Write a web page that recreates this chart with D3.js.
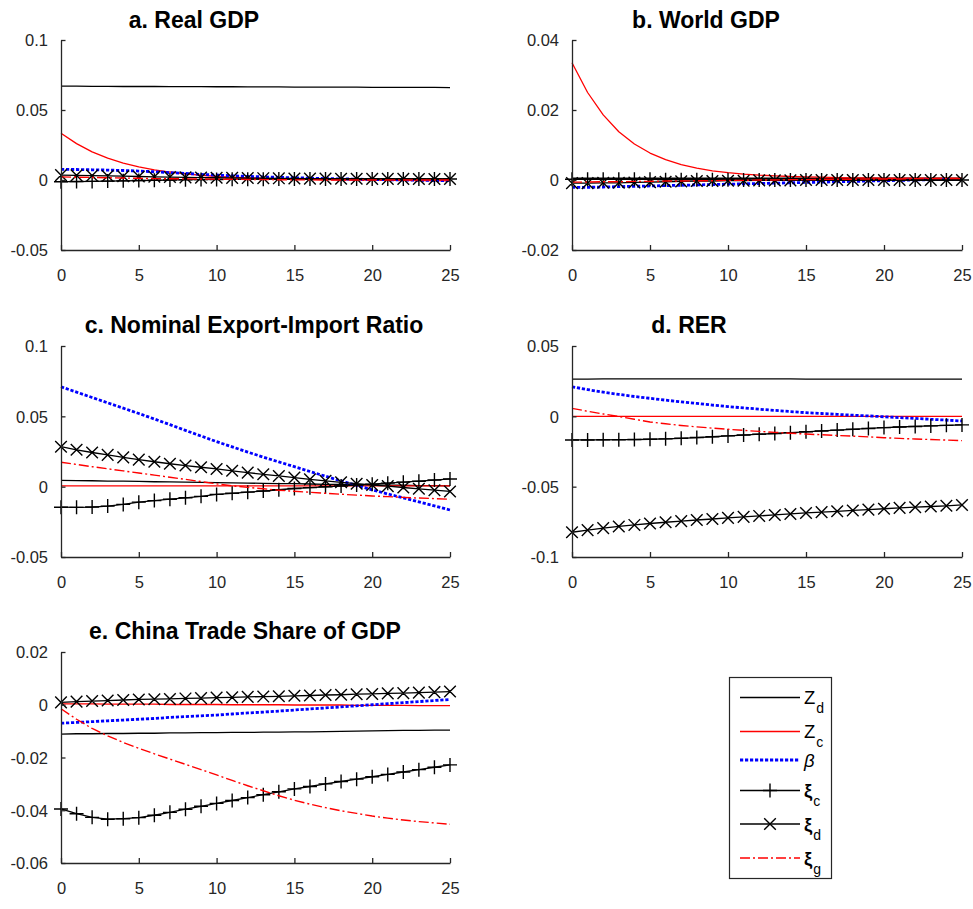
<!DOCTYPE html>
<html>
<head>
<meta charset="utf-8">
<script src="https://cdn.jsdelivr.net/npm/d3@7"></script>
<style>
  html, body { margin: 0; padding: 0; background: #fff; }
  svg { display: block; font-family: "Liberation Sans", Arial, Helvetica, sans-serif; }
</style>
</head>
<body>
<svg id="chart" width="973" height="909"></svg>
<script>
// Impulse-response horizon (periods)
const periods = [0,1,2,3,4,5,6,7,8,9,10,11,12,13,14,15,16,17,18,19,20,21,22,23,24,25];

// Shock names, in plotting / legend order
const shocks = ["Zd", "Zc", "beta", "xic", "xid", "xig"];

// ---- a. Real GDP ----
const realGdpZd   = [0.0670,0.0670,0.0669,0.0669,0.0668,0.0668,0.0668,0.0667,0.0667,0.0667,0.0666,0.0666,0.0665,0.0665,0.0665,0.0664,0.0664,0.0663,0.0663,0.0663,0.0662,0.0662,0.0661,0.0661,0.0661,0.0660];
const realGdpZc   = [0.0334,0.0260,0.0201,0.0156,0.0121,0.0094,0.0073,0.0057,0.0044,0.0034,0.0026,0.0020,0.0015,0.0011,0.0008,0.0006,0.0004,0.0002,0.0001,0.0000,-0.0001,-0.0002,-0.0003,-0.0004,-0.0005,-0.0006];
const realGdpBeta = [0.0076,0.0075,0.0073,0.0071,0.0068,0.0064,0.0059,0.0053,0.0047,0.0040,0.0035,0.0030,0.0026,0.0022,0.0019,0.0016,0.0013,0.0010,0.0008,0.0006,0.0004,0.0002,0.0000,-0.0002,-0.0004,-0.0005];
const realGdpXic  = [-0.0012,-0.0011,-0.0010,-0.0008,-0.0006,-0.0004,-0.0002,0.0000,0.0002,0.0003,0.0004,0.0005,0.0006,0.0006,0.0007,0.0007,0.0007,0.0007,0.0007,0.0007,0.0007,0.0007,0.0007,0.0007,0.0007,0.0007];
const realGdpXid  = [0.0035,0.0033,0.0031,0.0029,0.0027,0.0025,0.0023,0.0021,0.0019,0.0017,0.0016,0.0015,0.0014,0.0013,0.0012,0.0011,0.0010,0.0010,0.0009,0.0009,0.0008,0.0008,0.0008,0.0007,0.0007,0.0007];
const realGdpXig  = [0.0022,0.0020,0.0018,0.0016,0.0014,0.0012,0.0010,0.0009,0.0008,0.0007,0.0006,0.0005,0.0004,0.0003,0.0002,0.0001,0.0001,0.0000,0.0000,0.0000,0.0000,0.0000,0.0000,0.0000,0.0000,0.0000];

// ---- b. World GDP ----
const worldGdpZd   = [0.0005,0.0005,0.0005,0.0005,0.0005,0.0005,0.0005,0.0005,0.0005,0.0005,0.0005,0.0005,0.0005,0.0005,0.0005,0.0005,0.0005,0.0005,0.0005,0.0005,0.0005,0.0005,0.0005,0.0005,0.0005,0.0005];
const worldGdpZc   = [0.0335,0.0250,0.0186,0.0138,0.0103,0.0077,0.0058,0.0044,0.0034,0.0026,0.0021,0.0017,0.0014,0.0012,0.0010,0.0009,0.0008,0.0007,0.0006,0.0006,0.0005,0.0005,0.0005,0.0005,0.0005,0.0005];
const worldGdpBeta = [-0.0021,-0.0021,-0.0020,-0.0019,-0.0018,-0.0017,-0.0016,-0.0015,-0.0014,-0.0013,-0.0012,-0.0011,-0.0010,-0.0009,-0.0008,-0.0007,-0.0006,-0.0005,-0.0004,-0.0003,-0.0002,-0.0001,0.0000,0.0001,0.0001,0.0002];
const worldGdpXic  = [0.0002,0.0002,0.0002,0.0002,0.0002,0.0002,0.0001,0.0001,0.0001,0.0001,0.0001,0.0000,0.0000,0.0000,0.0000,0.0000,0.0000,0.0000,0.0000,0.0000,0.0000,0.0000,0.0000,0.0000,0.0000,0.0000];
const worldGdpXid  = [-0.0009,-0.0009,-0.0008,-0.0008,-0.0007,-0.0006,-0.0005,-0.0004,-0.0003,-0.0003,-0.0002,-0.0002,-0.0001,-0.0001,-0.0001,0.0000,0.0000,0.0000,0.0000,0.0000,0.0000,0.0000,0.0000,0.0000,0.0000,0.0000];
const worldGdpXig  = [-0.0006,-0.0006,-0.0005,-0.0005,-0.0004,-0.0004,-0.0003,-0.0003,-0.0002,-0.0002,-0.0001,-0.0001,0.0000,0.0000,0.0001,0.0001,0.0002,0.0002,0.0002,0.0003,0.0003,0.0003,0.0004,0.0004,0.0004,0.0004];

// ---- c. Nominal Export-Import Ratio ----
const exImZd   = [0.0045,0.0043,0.0042,0.0040,0.0039,0.0037,0.0035,0.0034,0.0032,0.0030,0.0029,0.0027,0.0025,0.0024,0.0022,0.0021,0.0019,0.0017,0.0016,0.0014,0.0013,0.0011,0.0010,0.0008,0.0007,0.0005];
const exImZc   = [0.0005,0.0005,0.0005,0.0005,0.0005,0.0005,0.0005,0.0005,0.0005,0.0005,0.0005,0.0005,0.0005,0.0005,0.0005,0.0005,0.0005,0.0005,0.0005,0.0005,0.0005,0.0005,0.0005,0.0005,0.0005,0.0005];
const exImBeta = [0.0710,0.0672,0.0634,0.0596,0.0558,0.0520,0.0481,0.0441,0.0400,0.0360,0.0320,0.0283,0.0246,0.0210,0.0176,0.0142,0.0108,0.0074,0.0041,0.0009,-0.0023,-0.0052,-0.0080,-0.0108,-0.0137,-0.0166];
const exImXic  = [-0.0146,-0.0147,-0.0145,-0.0138,-0.0126,-0.0110,-0.0099,-0.0089,-0.0079,-0.0069,-0.0055,-0.0047,-0.0039,-0.0031,-0.0022,-0.0013,-0.0007,-0.0001,0.0005,0.0011,0.0018,0.0025,0.0032,0.0039,0.0047,0.0055];
const exImXid  = [0.0284,0.0262,0.0243,0.0226,0.0208,0.0192,0.0177,0.0163,0.0150,0.0138,0.0126,0.0113,0.0100,0.0088,0.0076,0.0064,0.0052,0.0041,0.0031,0.0021,0.0012,0.0004,-0.0006,-0.0015,-0.0025,-0.0034];
const exImXig  = [0.0174,0.0158,0.0142,0.0127,0.0112,0.0097,0.0082,0.0067,0.0052,0.0036,0.0020,0.0006,-0.0005,-0.0015,-0.0025,-0.0033,-0.0040,-0.0047,-0.0054,-0.0060,-0.0066,-0.0071,-0.0076,-0.0081,-0.0085,-0.0089];

// ---- d. RER ----
const rerZd   = [0.0265,0.0265,0.0266,0.0266,0.0266,0.0266,0.0266,0.0266,0.0266,0.0266,0.0266,0.0266,0.0266,0.0266,0.0266,0.0265,0.0265,0.0265,0.0265,0.0265,0.0265,0.0264,0.0264,0.0264,0.0264,0.0264];
const rerZc   = [0.0000,0.0000,0.0000,0.0000,0.0000,0.0000,0.0000,0.0000,0.0000,0.0000,0.0000,0.0000,0.0000,0.0000,0.0000,0.0000,0.0000,0.0000,0.0000,0.0000,0.0000,0.0000,0.0000,0.0000,0.0000,0.0000];
const rerBeta = [0.0210,0.0190,0.0172,0.0156,0.0141,0.0128,0.0115,0.0103,0.0092,0.0080,0.0069,0.0060,0.0051,0.0042,0.0034,0.0026,0.0020,0.0014,0.0008,0.0003,-0.0003,-0.0009,-0.0015,-0.0021,-0.0027,-0.0033];
const rerXic  = [-0.0168,-0.0168,-0.0167,-0.0166,-0.0165,-0.0163,-0.0160,-0.0156,-0.0151,-0.0145,-0.0139,-0.0133,-0.0127,-0.0122,-0.0116,-0.0110,-0.0104,-0.0098,-0.0092,-0.0086,-0.0080,-0.0076,-0.0072,-0.0068,-0.0064,-0.0061];
const rerXid  = [-0.0824,-0.0809,-0.0795,-0.0783,-0.0772,-0.0762,-0.0753,-0.0745,-0.0737,-0.0730,-0.0722,-0.0715,-0.0708,-0.0701,-0.0694,-0.0687,-0.0681,-0.0675,-0.0669,-0.0663,-0.0657,-0.0651,-0.0646,-0.0641,-0.0636,-0.0630];
const rerXig  = [0.0057,0.0036,0.0017,-0.0001,-0.0021,-0.0040,-0.0053,-0.0065,-0.0075,-0.0084,-0.0092,-0.0100,-0.0107,-0.0114,-0.0120,-0.0126,-0.0131,-0.0136,-0.0141,-0.0146,-0.0152,-0.0157,-0.0161,-0.0165,-0.0169,-0.0173];

// ---- e. China Trade Share of GDP ----
const tradeZd   = [-0.0111,-0.0110,-0.0110,-0.0109,-0.0109,-0.0108,-0.0108,-0.0107,-0.0107,-0.0106,-0.0106,-0.0105,-0.0105,-0.0104,-0.0104,-0.0103,-0.0103,-0.0102,-0.0101,-0.0100,-0.0099,-0.0098,-0.0097,-0.0097,-0.0096,-0.0096];
const tradeZc   = [0.0003,0.0003,0.0003,0.0002,0.0002,0.0002,0.0002,0.0001,0.0001,0.0001,0.0001,0.0000,0.0000,0.0000,0.0000,-0.0001,-0.0001,-0.0001,-0.0001,-0.0002,-0.0002,-0.0002,-0.0002,-0.0003,-0.0003,-0.0003];
const tradeBeta = [-0.0070,-0.0067,-0.0064,-0.0061,-0.0058,-0.0055,-0.0052,-0.0048,-0.0045,-0.0042,-0.0039,-0.0035,-0.0031,-0.0028,-0.0024,-0.0020,-0.0016,-0.0012,-0.0008,-0.0004,0.0000,0.0004,0.0008,0.0012,0.0016,0.0020];
const tradeXic  = [-0.0395,-0.0413,-0.0427,-0.0434,-0.0432,-0.0428,-0.0419,-0.0408,-0.0396,-0.0385,-0.0374,-0.0363,-0.0352,-0.0341,-0.0330,-0.0319,-0.0310,-0.0300,-0.0291,-0.0282,-0.0273,-0.0264,-0.0255,-0.0246,-0.0237,-0.0228];
const tradeXid  = [0.0009,0.0012,0.0014,0.0016,0.0018,0.0020,0.0021,0.0022,0.0024,0.0025,0.0027,0.0028,0.0030,0.0031,0.0032,0.0034,0.0035,0.0037,0.0038,0.0040,0.0041,0.0043,0.0044,0.0046,0.0048,0.0050];
const tradeXig  = [-0.0015,-0.0055,-0.0090,-0.0118,-0.0143,-0.0165,-0.0186,-0.0206,-0.0226,-0.0246,-0.0266,-0.0287,-0.0307,-0.0326,-0.0345,-0.0362,-0.0377,-0.0390,-0.0402,-0.0412,-0.0422,-0.0430,-0.0437,-0.0443,-0.0448,-0.0453];

// Axis tick values and labels
const xTicks = [0, 5, 10, 15, 20, 25];
const yTicksA = [-0.05, 0, 0.05, 0.1];   const yLabelsA = ["-0.05", "0", "0.05", "0.1"];
const yTicksB = [-0.02, 0, 0.02, 0.04];  const yLabelsB = ["-0.02", "0", "0.02", "0.04"];
const yTicksC = [-0.05, 0, 0.05, 0.1];   const yLabelsC = ["-0.05", "0", "0.05", "0.1"];
const yTicksD = [-0.1, -0.05, 0, 0.05];  const yLabelsD = ["-0.1", "-0.05", "0", "0.05"];
const yTicksE = [-0.06, -0.04, -0.02, 0, 0.02]; const yLabelsE = ["-0.06", "-0.04", "-0.02", "0", "0.02"];

// Panel titles
const titles = ["a. Real GDP", "b. World GDP", "c. Nominal Export-Import Ratio", "d. RER", "e. China Trade Share of GDP"];

// Legend labels: main symbol + subscript
const legendMain = ["Z", "Z", "\u03B2", "\u03BE", "\u03BE", "\u03BE"];
const legendSub  = ["d", "c", "", "c", "d", "g"];

// ---------------- drawing ----------------
const panels = [
  { title: titles[0], series: [realGdpZd, realGdpZc, realGdpBeta, realGdpXic, realGdpXid, realGdpXig],
    domain: [-0.05, 0.1], ticks: yTicksA, labels: yLabelsA,
    left: 61, right: 450, top: 40, bottom: 250, titleX: 194, titleY: 28 },
  { title: titles[1], series: [worldGdpZd, worldGdpZc, worldGdpBeta, worldGdpXic, worldGdpXid, worldGdpXig],
    domain: [-0.02, 0.04], ticks: yTicksB, labels: yLabelsB,
    left: 572, right: 962, top: 40, bottom: 250, titleX: 706, titleY: 28 },
  { title: titles[2], series: [exImZd, exImZc, exImBeta, exImXic, exImXid, exImXig],
    domain: [-0.05, 0.1], ticks: yTicksC, labels: yLabelsC,
    left: 61, right: 450, top: 346, bottom: 557, titleX: 254, titleY: 333 },
  { title: titles[3], series: [rerZd, rerZc, rerBeta, rerXic, rerXid, rerXig],
    domain: [-0.1, 0.05], ticks: yTicksD, labels: yLabelsD,
    left: 572, right: 962, top: 346, bottom: 557, titleX: 689, titleY: 333 },
  { title: titles[4], series: [tradeZd, tradeZc, tradeBeta, tradeXic, tradeXid, tradeXig],
    domain: [-0.06, 0.02], ticks: yTicksE, labels: yLabelsE,
    left: 61, right: 450, top: 652, bottom: 863, titleX: 245, titleY: 639 }
];

// Line styles per shock
const styles = {
  Zd:   { color: "#000000", width: 1.3, dash: null,       marker: null },
  Zc:   { color: "#ff0000", width: 1.3, dash: null,       marker: null },
  beta: { color: "#0000ff", width: 2.8, dash: "3.2,1.8",  marker: null },
  xic:  { color: "#000000", width: 1.3, dash: null,       marker: "plus" },
  xid:  { color: "#000000", width: 1.3, dash: null,       marker: "cross" },
  xig:  { color: "#ff0000", width: 1.4, dash: "10,3,2,3", marker: null }
};

const axisColor = "#262626";
const svg = d3.select("#chart");

function markerPath(type, x, y) {
  if (type === "plus") {
    const s = 7;
    return `M${x - s},${y}H${x + s}M${x},${y - s}V${y + s}`;
  }
  const s = 5.8;
  return `M${x - s},${y - s}L${x + s},${y + s}M${x + s},${y - s}L${x - s},${y + s}`;
}

panels.forEach(p => {
  const g = svg.append("g");
  const x = d3.scaleLinear().domain([0, 25]).range([p.left, p.right]);
  const y = d3.scaleLinear().domain(p.domain).range([p.bottom, p.top]);

  // series
  const line = d3.line().x((d, i) => x(periods[i])).y(d => y(d));
  shocks.forEach((key, k) => {
    const st = styles[key];
    const values = p.series[k];
    g.append("path")
      .attr("d", line(values))
      .attr("fill", "none")
      .attr("stroke", st.color)
      .attr("stroke-width", st.width)
      .attr("stroke-dasharray", st.dash)
      .attr("stroke-linejoin", "round");
    if (st.marker) {
      g.append("path")
        .attr("d", values.map((v, i) => markerPath(st.marker, x(periods[i]), y(v))).join(""))
        .attr("fill", "none")
        .attr("stroke", st.color)
        .attr("stroke-width", 1.4);
    }
  });

  // y axis (ticks pointing inward, labels on the left)
  const yAxis = d3.axisLeft(y).tickValues(p.ticks)
    .tickFormat((d, i) => p.labels[i]).tickSizeInner(-4.5).tickSizeOuter(0).tickPadding(13);
  const ya = g.append("g").attr("transform", `translate(${p.left},0)`).call(yAxis);
  // x axis (ticks pointing inward, labels below)
  const xAxis = d3.axisBottom(x).tickValues(xTicks)
    .tickFormat(d3.format("d")).tickSizeInner(-5).tickSizeOuter(0).tickPadding(19);
  const xa = g.append("g").attr("transform", `translate(0,${p.bottom})`).call(xAxis);

  [ya, xa].forEach(a => {
    a.select(".domain").attr("stroke", axisColor).attr("stroke-width", 1.3);
    a.selectAll(".tick line").attr("stroke", axisColor).attr("stroke-width", 1.3);
    a.selectAll(".tick text")
      .attr("fill", axisColor)
      .style("font-family", '"Liberation Sans", Arial, sans-serif')
      .style("font-size", "16.5px");
  });
  ya.selectAll(".tick text").attr("dy", "0.36em");

  // title
  g.append("text")
    .attr("x", p.titleX).attr("y", p.titleY)
    .attr("text-anchor", "middle")
    .style("font-size", "23px").style("font-weight", "bold")
    .attr("fill", "#000")
    .text(p.title);
});

// ---------------- legend ----------------
const legend = svg.append("g");
legend.append("rect")
  .attr("x", 729.5).attr("y", 677.5).attr("width", 102).attr("height", 201)
  .attr("fill", "#fff").attr("stroke", axisColor).attr("stroke-width", 1.2);

const legendRowY = [697.5, 731.5, 760, 790.5, 824, 858];
shocks.forEach((key, k) => {
  const st = styles[key];
  const yy = legendRowY[k];
  legend.append("line")
    .attr("x1", 740).attr("x2", 800).attr("y1", yy).attr("y2", yy)
    .attr("stroke", st.color).attr("stroke-width", st.width)
    .attr("stroke-dasharray", st.dash);
  if (st.marker) {
    legend.append("path")
      .attr("d", markerPath(st.marker, 770, yy))
      .attr("fill", "none").attr("stroke", st.color).attr("stroke-width", 1.4);
  }
  const t = legend.append("text")
    .attr("x", 804).attr("y", yy + 6.5)
    .attr("fill", "#000")
    .style("font-size", "18.5px");
  const main = t.append("tspan").text(legendMain[k]);
  if (key === "beta") main.style("font-style", "italic");
  if (key.startsWith("xi")) main.style("font-weight", "bold");
  if (legendSub[k]) {
    t.append("tspan").attr("dy", 9).attr("dx", 1).style("font-size", "14px").text(legendSub[k]);
  }
});
</script>
</body>
</html>
